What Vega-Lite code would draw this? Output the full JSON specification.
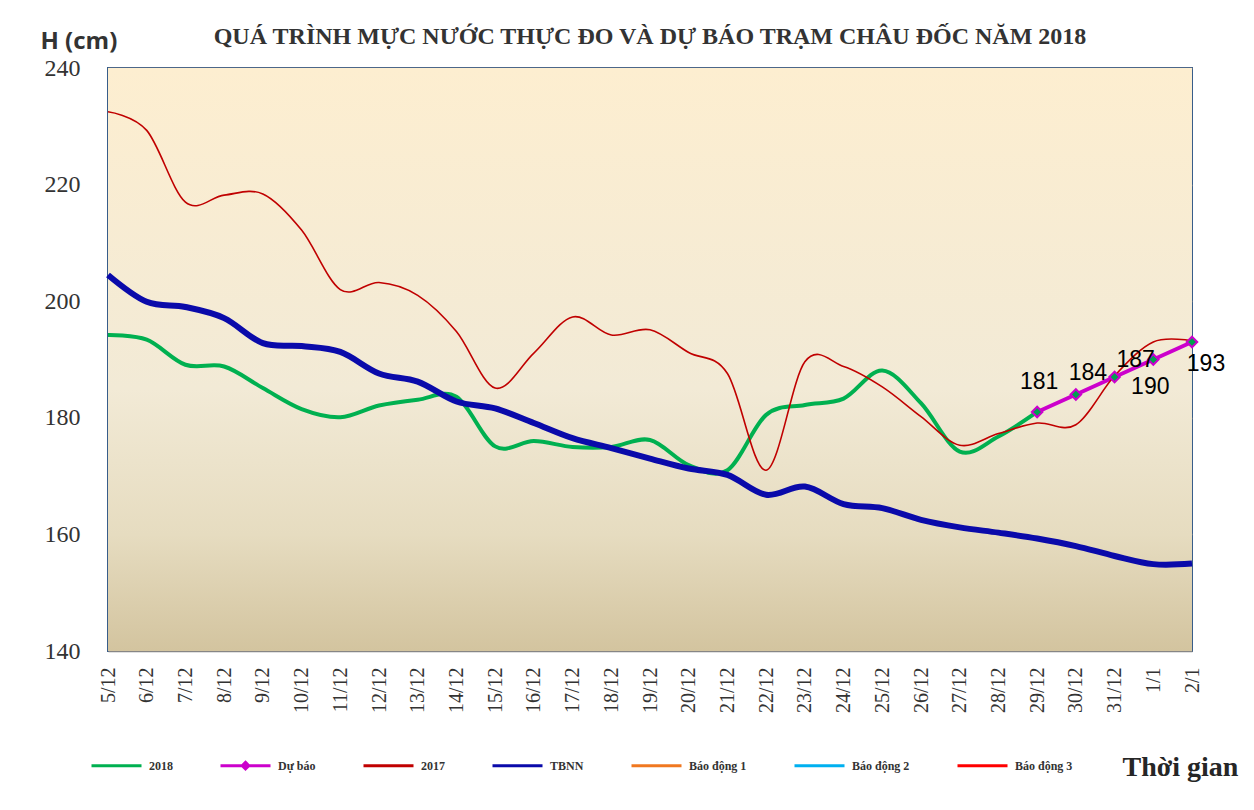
{
  "$schema": "https://vega.github.io/schema/vega-lite/v6.json",
  "autosize": "none",
  "width": 1084,
  "height": 583,
  "padding": {"left": 108, "top": 68, "right": 62, "bottom": 159},
  "background": "white",
  "title": {"text": "QUÁ TRÌNH MỰC NƯỚC THỰC ĐO VÀ DỰ BÁO TRẠM CHÂU ĐỐC NĂM 2018", "font": "Liberation Serif", "fontSize": 24, "fontWeight": "bold", "color": "#333333", "anchor": "middle", "offset": -20},
  "config": {
    "view": {"stroke": "#385d8a", "strokeWidth": 2},
    "axis": {"ticks": false, "domain": false},
    "legend": {"orient": "none", "direction": "horizontal", "legendX": -18, "legendY": 671, "symbolType": "stroke", "symbolSize": 2500, "symbolStrokeWidth": 3, "labelFont": "Liberation Serif", "labelFontSize": 12, "labelFontWeight": "bold", "labelColor": "#333333", "labelOffset": 6, "columnPadding": 41, "padding": 0, "titleFontSize": 0}
  },
  "datasets": {
    "levels": [
      {"date": "5/12", "series": "2018", "value": 194.2},
      {"date": "6/12", "series": "2018", "value": 193.4},
      {"date": "7/12", "series": "2018", "value": 189.1},
      {"date": "8/12", "series": "2018", "value": 188.8},
      {"date": "9/12", "series": "2018", "value": 185.1},
      {"date": "10/12", "series": "2018", "value": 181.5},
      {"date": "11/12", "series": "2018", "value": 180.1},
      {"date": "12/12", "series": "2018", "value": 182.1},
      {"date": "13/12", "series": "2018", "value": 183.1},
      {"date": "14/12", "series": "2018", "value": 183.6},
      {"date": "15/12", "series": "2018", "value": 175.1},
      {"date": "16/12", "series": "2018", "value": 176.0},
      {"date": "17/12", "series": "2018", "value": 175.0},
      {"date": "18/12", "series": "2018", "value": 175.0},
      {"date": "19/12", "series": "2018", "value": 176.2},
      {"date": "20/12", "series": "2018", "value": 171.9},
      {"date": "21/12", "series": "2018", "value": 171.0},
      {"date": "22/12", "series": "2018", "value": 180.5},
      {"date": "23/12", "series": "2018", "value": 182.2},
      {"date": "24/12", "series": "2018", "value": 183.3},
      {"date": "25/12", "series": "2018", "value": 188.1},
      {"date": "26/12", "series": "2018", "value": 182.5},
      {"date": "27/12", "series": "2018", "value": 174.2},
      {"date": "28/12", "series": "2018", "value": 176.8},
      {"date": "29/12", "series": "2018", "value": 181.0},
      {"date": "29/12", "series": "Dự báo", "value": 181},
      {"date": "30/12", "series": "Dự báo", "value": 184},
      {"date": "31/12", "series": "Dự báo", "value": 187},
      {"date": "1/1", "series": "Dự báo", "value": 190},
      {"date": "2/1", "series": "Dự báo", "value": 193},
      {"date": "5/12", "series": "2017", "value": 232.5},
      {"date": "6/12", "series": "2017", "value": 229.3},
      {"date": "7/12", "series": "2017", "value": 217.0},
      {"date": "8/12", "series": "2017", "value": 218.2},
      {"date": "9/12", "series": "2017", "value": 218.4},
      {"date": "10/12", "series": "2017", "value": 212.2},
      {"date": "11/12", "series": "2017", "value": 202.0},
      {"date": "12/12", "series": "2017", "value": 203.2},
      {"date": "13/12", "series": "2017", "value": 201.0},
      {"date": "14/12", "series": "2017", "value": 194.8},
      {"date": "15/12", "series": "2017", "value": 185.1},
      {"date": "16/12", "series": "2017", "value": 191.1},
      {"date": "17/12", "series": "2017", "value": 197.3},
      {"date": "18/12", "series": "2017", "value": 194.2},
      {"date": "19/12", "series": "2017", "value": 195.1},
      {"date": "20/12", "series": "2017", "value": 191.2},
      {"date": "21/12", "series": "2017", "value": 187.6},
      {"date": "22/12", "series": "2017", "value": 171.0},
      {"date": "23/12", "series": "2017", "value": 189.6},
      {"date": "24/12", "series": "2017", "value": 188.8},
      {"date": "25/12", "series": "2017", "value": 185.3},
      {"date": "26/12", "series": "2017", "value": 180.2},
      {"date": "27/12", "series": "2017", "value": 175.3},
      {"date": "28/12", "series": "2017", "value": 177.3},
      {"date": "29/12", "series": "2017", "value": 179.1},
      {"date": "30/12", "series": "2017", "value": 178.8},
      {"date": "31/12", "series": "2017", "value": 187.2},
      {"date": "1/1", "series": "2017", "value": 193.0},
      {"date": "2/1", "series": "2017", "value": 193.2},
      {"date": "5/12", "series": "TBNN", "value": 204.5},
      {"date": "6/12", "series": "TBNN", "value": 199.9},
      {"date": "7/12", "series": "TBNN", "value": 199.0},
      {"date": "8/12", "series": "TBNN", "value": 197.1},
      {"date": "9/12", "series": "TBNN", "value": 192.8},
      {"date": "10/12", "series": "TBNN", "value": 192.3},
      {"date": "11/12", "series": "TBNN", "value": 191.3},
      {"date": "12/12", "series": "TBNN", "value": 187.6},
      {"date": "13/12", "series": "TBNN", "value": 186.2},
      {"date": "14/12", "series": "TBNN", "value": 182.8},
      {"date": "15/12", "series": "TBNN", "value": 181.6},
      {"date": "16/12", "series": "TBNN", "value": 179.1},
      {"date": "17/12", "series": "TBNN", "value": 176.5},
      {"date": "18/12", "series": "TBNN", "value": 174.8},
      {"date": "19/12", "series": "TBNN", "value": 173.0},
      {"date": "20/12", "series": "TBNN", "value": 171.3},
      {"date": "21/12", "series": "TBNN", "value": 170.2},
      {"date": "22/12", "series": "TBNN", "value": 166.8},
      {"date": "23/12", "series": "TBNN", "value": 168.2},
      {"date": "24/12", "series": "TBNN", "value": 165.2},
      {"date": "25/12", "series": "TBNN", "value": 164.5},
      {"date": "26/12", "series": "TBNN", "value": 162.5},
      {"date": "27/12", "series": "TBNN", "value": 161.2},
      {"date": "28/12", "series": "TBNN", "value": 160.3},
      {"date": "29/12", "series": "TBNN", "value": 159.3},
      {"date": "30/12", "series": "TBNN", "value": 158.0},
      {"date": "31/12", "series": "TBNN", "value": 156.3},
      {"date": "1/1", "series": "TBNN", "value": 154.9},
      {"date": "2/1", "series": "TBNN", "value": 155.0}
    ],
    "band": [{"lo": 140, "hi": 240}]
  },
  "data": {"name": "levels"},
  "encoding": {
    "x": {
      "field": "date", "type": "ordinal",
      "scale": {"type": "point", "padding": 0, "domain": ["5/12","6/12","7/12","8/12","9/12","10/12","11/12","12/12","13/12","14/12","15/12","16/12","17/12","18/12","19/12","20/12","21/12","22/12","23/12","24/12","25/12","26/12","27/12","28/12","29/12","30/12","31/12","1/1","2/1"]},
      "axis": {"labelAngle": 270, "labelFont": "Liberation Serif", "labelFontSize": 20, "labelColor": "#333333", "labelPadding": 16, "grid": false,
        "title": "Thời gian", "titleFont": "Liberation Serif", "titleFontSize": 28, "titleFontWeight": "bold", "titleColor": "#262626", "titleAlign": "left", "titleBaseline": "alphabetic", "titleX": 1014, "titleY": 124, "titleAnchor": "start"}
    },
    "y": {
      "field": "value", "type": "quantitative",
      "scale": {"domain": [140, 240], "nice": false, "zero": false},
      "axis": {"values": [140, 160, 180, 200, 220, 240], "labelFont": "Liberation Serif", "labelFontSize": 24, "labelColor": "#333333", "labelPadding": 28, "grid": true, "gridColor": "#868686", "gridWidth": 1.5,
        "title": "H (cm)", "titleAngle": 0, "titleFont": "Open Sans", "titleFontSize": 24, "titleFontWeight": "bold", "titleColor": "#333333", "titleAlign": "left", "titleBaseline": "alphabetic", "titleX": -68, "titleY": -20, "titleAnchor": "start"}
    }
  },
  "layer": [
    {
      "data": {"name": "band"},
      "mark": {"type": "rect", "fill": {"gradient": "linear", "x1": 0, "y1": 0, "x2": 0, "y2": 1, "stops": [{"offset": 0, "color": "#fdeed0"}, {"offset": 0.55, "color": "#f2ead6"}, {"offset": 0.8, "color": "#e6dcc0"}, {"offset": 1, "color": "#d3c49f"}]}},
      "encoding": {"x": null, "y": {"field": "hi", "type": "quantitative"}, "y2": {"field": "lo"}}
    },
    {
      "transform": [{"filter": "datum.series === '2018'"}],
      "mark": {"type": "line", "interpolate": "cardinal", "strokeWidth": 4},
      "encoding": {"color": {"field": "series", "type": "nominal",
        "scale": {"domain": ["2018", "Dự báo", "2017", "TBNN", "Báo động 1", "Báo động 2", "Báo động 3"], "range": ["#00b050", "#cc00cc", "#c00000", "#0a0aaa", "#f07820", "#00b0f0", "#ff0000"]},
        "legend": {"title": null, "encode": {"symbols": {"update": {"shape": {"signal": "datum.value === 'Dự báo' ? 'M-1,0H1M0,-0.13L0.13,0L0,0.13L-0.13,0Z' : 'M-1,0H1M0,-0.13L0,-0.13M0,0.13L0,0.13'"}, "fill": {"signal": "datum.value === 'Dự báo' ? '#00a050' : 'transparent'"}}}}}}}
    },
    {
      "transform": [{"filter": "datum.series === 'Dự báo'"}],
      "mark": {"type": "line", "strokeWidth": 4},
      "encoding": {"color": {"field": "series", "type": "nominal"}}
    },
    {
      "transform": [{"filter": "datum.series === '2017'"}],
      "mark": {"type": "line", "interpolate": "cardinal", "strokeWidth": 1.6},
      "encoding": {"color": {"field": "series", "type": "nominal"}}
    },
    {
      "transform": [{"filter": "datum.series === 'TBNN'"}],
      "mark": {"type": "line", "interpolate": "cardinal", "strokeWidth": 6},
      "encoding": {"color": {"field": "series", "type": "nominal"}}
    },
    {
      "transform": [{"filter": "datum.series === 'Dự báo'"}],
      "mark": {"type": "point", "shape": "diamond", "filled": true, "fill": "#00a050", "stroke": "#cc00cc", "strokeWidth": 2, "size": 110, "opacity": 1}
    },
    {
      "transform": [{"filter": "datum.series === 'Dự báo' && datum.date === '29/12'"}],
      "mark": {"type": "text", "font": "Liberation Sans", "fontSize": 23, "color": "#000000", "dx": 2, "dy": -30},
      "encoding": {"text": {"field": "value", "type": "quantitative"}}
    },
    {
      "transform": [{"filter": "datum.series === 'Dự báo' && datum.date === '30/12'"}],
      "mark": {"type": "text", "font": "Liberation Sans", "fontSize": 23, "color": "#000000", "dx": 12, "dy": -21},
      "encoding": {"text": {"field": "value", "type": "quantitative"}}
    },
    {
      "transform": [{"filter": "datum.series === 'Dự báo' && datum.date === '31/12'"}],
      "mark": {"type": "text", "font": "Liberation Sans", "fontSize": 23, "color": "#000000", "dx": 21, "dy": -17},
      "encoding": {"text": {"field": "value", "type": "quantitative"}}
    },
    {
      "transform": [{"filter": "datum.series === 'Dự báo' && datum.date === '1/1'"}],
      "mark": {"type": "text", "font": "Liberation Sans", "fontSize": 23, "color": "#000000", "dx": -3, "dy": 27},
      "encoding": {"text": {"field": "value", "type": "quantitative"}}
    },
    {
      "transform": [{"filter": "datum.series === 'Dự báo' && datum.date === '2/1'"}],
      "mark": {"type": "text", "font": "Liberation Sans", "fontSize": 23, "color": "#000000", "dx": 14, "dy": 22},
      "encoding": {"text": {"field": "value", "type": "quantitative"}}
    }
  ]
}
